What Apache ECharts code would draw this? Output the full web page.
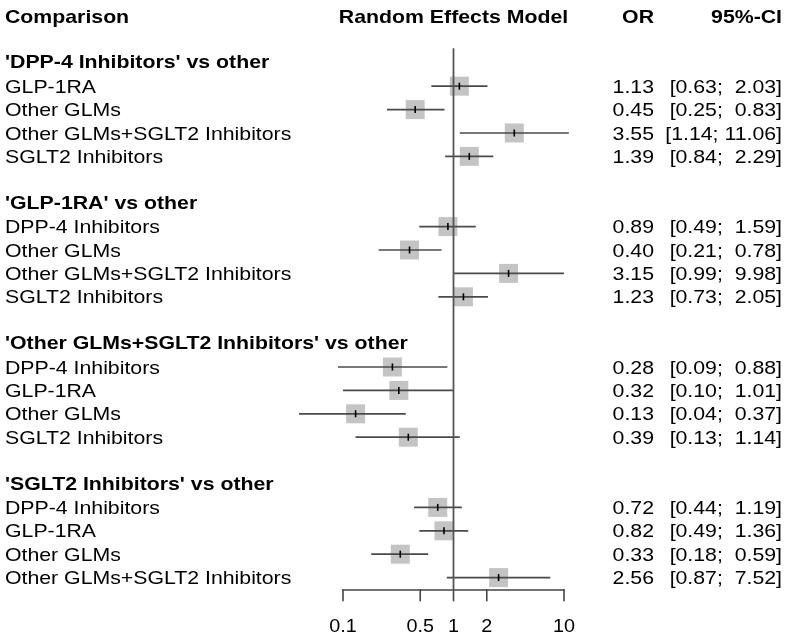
<!DOCTYPE html>
<html>
<head>
<meta charset="utf-8">
<script src="https://cdn.jsdelivr.net/npm/echarts@6/dist/echarts.min.js"></script>
<style>html,body{margin:0;padding:0;background:#fff;}#c{width:787px;height:644px;}</style>
</head>
<body>
<div id="c"></div>
<script>
const groupTitles = ["'DPP-4 Inhibitors' vs other", "'GLP-1RA' vs other", "'Other GLMs+SGLT2 Inhibitors' vs other", "'SGLT2 Inhibitors' vs other"];
const rowLabels = [
  ["GLP-1RA", "Other GLMs", "Other GLMs+SGLT2 Inhibitors", "SGLT2 Inhibitors"],
  ["DPP-4 Inhibitors", "Other GLMs", "Other GLMs+SGLT2 Inhibitors", "SGLT2 Inhibitors"],
  ["DPP-4 Inhibitors", "GLP-1RA", "Other GLMs", "SGLT2 Inhibitors"],
  ["DPP-4 Inhibitors", "GLP-1RA", "Other GLMs", "Other GLMs+SGLT2 Inhibitors"]
];
const orValues = [
  [1.13, 0.45, 3.55, 1.39],
  [0.89, 0.40, 3.15, 1.23],
  [0.28, 0.32, 0.13, 0.39],
  [0.72, 0.82, 0.33, 2.56]
];
const ciLower = [
  [0.63, 0.25, 1.14, 0.84],
  [0.49, 0.21, 0.99, 0.73],
  [0.09, 0.10, 0.04, 0.13],
  [0.44, 0.49, 0.18, 0.87]
];
const ciUpper = [
  [2.03, 0.83, 11.06, 2.29],
  [1.59, 0.78, 9.98, 2.05],
  [0.88, 1.01, 0.37, 1.14],
  [1.19, 1.36, 0.59, 7.52]
];
const tickValues = [0.1, 0.5, 1, 2, 10];
const tickLabels = ["0.1", "0.5", "1", "2", "10"];
const headers = ["Comparison", "Random Effects Model", "OR", "95%-CI"];

const FONT = "'Liberation Sans', Arial, Helvetica, sans-serif";
const FS = 18.5, SX = 1.15, DY = 1.5;

// build rows
const forestData = [];
const textRows = [];
textRows.push({row: -3, kind: 'header'});
groupTitles.forEach((g, gi) => {
  textRows.push({row: gi * 6 - 1, kind: 'group', text: g});
  rowLabels[gi].forEach((lab, ri) => {
    const row = gi * 6 + ri;
    const o = orValues[gi][ri], lo = ciLower[gi][ri], hi = ciUpper[gi][ri];
    forestData.push([o, row, lo, hi]);
    const pad = hi >= 10 ? ' ' : '  ';
    textRows.push({row: row, kind: 'item', text: lab, or: o.toFixed(2),
      ci: '[' + lo.toFixed(2) + ';' + pad + hi.toFixed(2) + ']'});
  });
});

function txt(x, y, text, align, bold) {
  return {type: 'text', x: x, y: y + DY, scaleX: SX,
    style: {text: text, fontSize: FS, fontFamily: FONT, fontWeight: bold ? 'bold' : 'normal',
      fill: '#000', align: align, verticalAlign: 'middle'}};
}

const chart = echarts.init(document.getElementById('c'), null, {renderer: 'canvas'});
chart.setOption({
  backgroundColor: '#fff',
  animation: false,
  grid: {left: 343, right: 223, top: 4.3, height: 585},
  xAxis: {type: 'log', logBase: 10, min: 0.1, max: 10, position: 'bottom',
    axisLine: {show: true, onZero: false, lineStyle: {color: '#444', width: 1.6}},
    axisTick: {show: false}, axisLabel: {show: false}, splitLine: {show: false}},
  yAxis: {type: 'value', inverse: true, min: -3.5, max: 21.5, show: false},
  series: [
    {type: 'line', data: [[1, -1.62], [1, 21.5]], symbol: 'none', silent: true,
      lineStyle: {color: '#555', width: 1.8}},
    {type: 'custom', data: forestData, encode: {x: 0, y: 1}, clip: false,
      renderItem: function (params, api) {
        const c = api.coord([api.value(0), api.value(1)]);
        const l = api.coord([api.value(2), api.value(1)]);
        const h = api.coord([api.value(3), api.value(1)]);
        const s = 19;
        return {type: 'group', children: [
          {type: 'rect', shape: {x: c[0] - s / 2, y: c[1] - s / 2, width: s, height: s}, style: {fill: '#c4c4c4'}},
          {type: 'line', shape: {x1: l[0], y1: l[1], x2: h[0], y2: h[1]}, style: {stroke: '#4a4a4a', lineWidth: 1.7}},
          {type: 'line', shape: {x1: c[0], y1: c[1] - 3.5, x2: c[0], y2: c[1] + 3.5}, style: {stroke: '#000', lineWidth: 1.6}}
        ]};
      }},
    {type: 'custom', data: tickValues.map((v, i) => [v, 21.5, i]), encode: {x: 0, y: 1}, clip: false,
      renderItem: function (params, api) {
        const p = api.coord([api.value(0), api.value(1)]);
        const i = api.value(2);
        return {type: 'group', children: [
          {type: 'line', shape: {x1: p[0], y1: p[1], x2: p[0], y2: p[1] + 12}, style: {stroke: '#444', lineWidth: 1.6}},
          {type: 'text', x: p[0], y: p[1] + 38, scaleX: 1.1,
            style: {text: tickLabels[i], fontSize: 18, fontFamily: FONT, fill: '#000', align: 'center', verticalAlign: 'middle'}}
        ]};
      }},
    {type: 'custom', data: textRows.map((t, i) => [1, t.row, i]), encode: {x: 0, y: 1}, clip: false,
      renderItem: function (params, api) {
        const t = textRows[api.value(2)];
        const p = api.coord([1, t.row]);
        const y = p[1];
        if (t.kind === 'header') {
          return {type: 'group', children: [
            txt(5, y, headers[0], 'left', true),
            txt(p[0], y, headers[1], 'center', true),
            txt(654, y, headers[2], 'right', true),
            txt(782, y, headers[3], 'right', true)
          ]};
        }
        if (t.kind === 'group') {
          return txt(5, y - 1, t.text, 'left', true);
        }
        return {type: 'group', children: [
          txt(5, y, t.text, 'left', false),
          txt(654, y, t.or, 'right', false),
          txt(782, y, t.ci, 'right', false)
        ]};
      }}
  ]
});
</script>
</body>
</html>
